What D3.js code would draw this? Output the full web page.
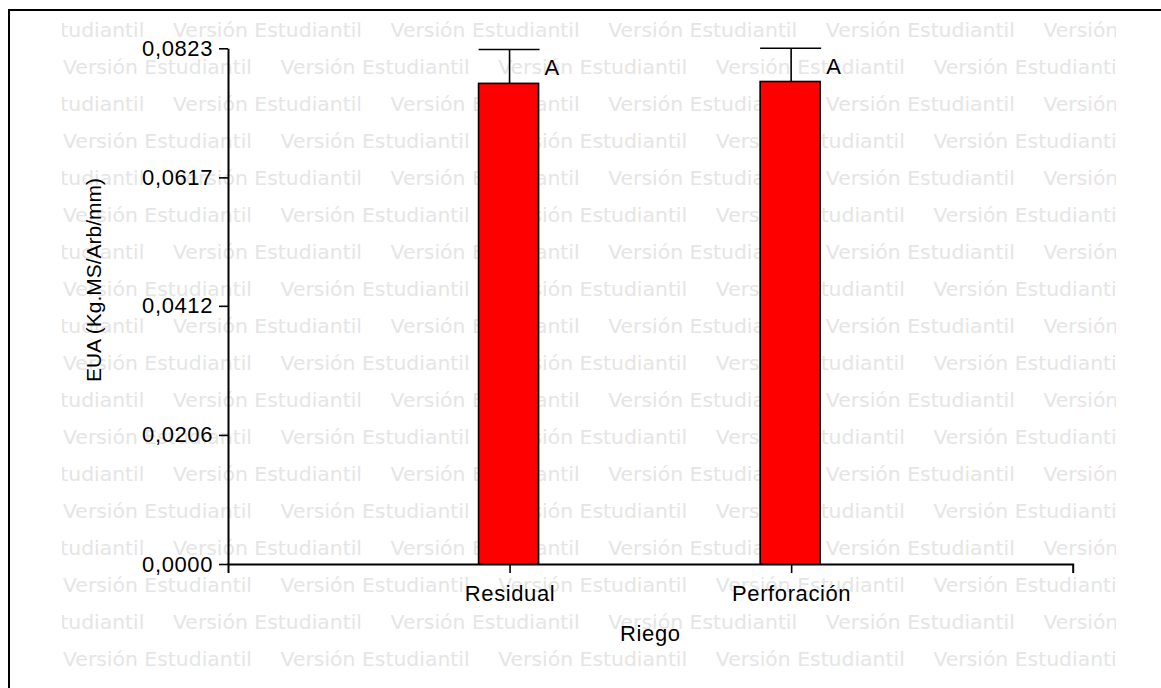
<!DOCTYPE html>
<html>
<head>
<meta charset="utf-8">
<script src="https://cdn.jsdelivr.net/npm/d3@7"></script>
<style>
  html, body { margin: 0; padding: 0; background: #fff; }
  svg { display: block; }
</style>
</head>
<body>
<svg id="chart" width="1161" height="688"></svg>
<script>
// Water-use efficiency by irrigation source
const categories = ["Residual", "Perforación"];
const means = [0.0767, 0.0770];
const errors = [0.0054, 0.0053];
const groupLetters = ["A", "A"];
const yTickValues = [0, 0.0206, 0.0412, 0.0617, 0.0823];
const yTickLabels = ["0,0000", "0,0206", "0,0412", "0,0617", "0,0823"];
const watermarkText = "Versión Estudiantil";

const svg = d3.select("#chart");
const W = 1161, H = 688;
const font = "'Liberation Sans', Arial, sans-serif";
const spacing = "0.6px";

svg.append("rect").attr("width", W).attr("height", H).attr("fill", "#fff");

// Student-licence watermark tiled behind the plot
const wmClip = svg.append("defs").append("clipPath").attr("id", "wm-clip");
wmClip.append("rect").attr("x", 62).attr("y", 12).attr("width", 1116 - 62).attr("height", H - 12);
const wm = svg.append("g").attr("clip-path", "url(#wm-clip)");
const period = 217.6;
for (let k = 0; k < 18; k++) {
  const y = 37 + 37 * k;
  const x0 = (k % 2 === 0) ? 173 - period : 63;
  for (let j = 0; j < 6; j++) {
    wm.append("text")
      .attr("x", x0 + period * j)
      .attr("y", y)
      .attr("textLength", 189)
      .attr("lengthAdjust", "spacingAndGlyphs")
      .attr("font-family", "'DejaVu Sans', Verdana, sans-serif")
      .attr("font-size", 19)
      .attr("fill", "#e5e5e5")
      .text(watermarkText);
  }
}

// Outer frame
svg.append("rect")
  .attr("x", 9).attr("y", 10)
  .attr("width", W + 20).attr("height", H + 20)
  .attr("fill", "none").attr("stroke", "#000").attr("stroke-width", 2);

const x0 = 228, x1 = 1072.7, yBase = 564, yTop = 48.3;

const y = d3.scaleLinear().domain([0, 0.0823]).range([yBase, yTop]);
const x = d3.scalePoint().domain(categories).range([x0, x1]).padding(1);

// Bars
const barW = 60;
svg.append("g").selectAll("rect")
  .data(categories)
  .join("rect")
  .attr("x", d => x(d) - barW / 2 - 1)
  .attr("y", (d, i) => y(means[i]))
  .attr("width", barW)
  .attr("height", (d, i) => y(0) - y(means[i]))
  .attr("fill", "#ff0000")
  .attr("stroke", "#000")
  .attr("stroke-width", 1.6);

// Error bars (upper only)
const eb = svg.append("g").attr("stroke", "#000").attr("stroke-width", 1.6);
categories.forEach((c, i) => {
  const cx = x(c);
  eb.append("line")
    .attr("x1", cx).attr("x2", cx)
    .attr("y1", y(means[i])).attr("y2", y(means[i] + errors[i]));
  eb.append("line")
    .attr("x1", cx - 31).attr("x2", cx + 30)
    .attr("y1", y(means[i] + errors[i])).attr("y2", y(means[i] + errors[i]));
});

// Group letters
svg.append("g").selectAll("text")
  .data(categories)
  .join("text")
  .attr("x", d => x(d) + 35)
  .attr("y", (d, i) => y(means[i]) - 8)
  .attr("font-family", font)
  .attr("font-size", 22)
  .attr("fill", "#000")
  .text((d, i) => groupLetters[i]);

// Y axis
const yAxis = d3.axisLeft(y)
  .tickValues(yTickValues)
  .tickFormat((d, i) => yTickLabels[i])
  .tickSize(9).tickSizeOuter(0).tickPadding(6);
const gy = svg.append("g").attr("transform", `translate(${x0},0)`).call(yAxis);
gy.select(".domain").attr("stroke-width", 2);
gy.selectAll(".tick line").attr("stroke-width", 1.6);
gy.selectAll("text").attr("font-family", font).attr("font-size", 22)
  .attr("letter-spacing", spacing).attr("fill", "#000");

// X axis
const xAxis = d3.axisBottom(x).tickSize(9).tickSizeOuter(9).tickPadding(12);
const gx = svg.append("g").attr("transform", `translate(0,${yBase})`).call(xAxis);
gx.select(".domain").attr("stroke-width", 2);
gx.selectAll(".tick line").attr("stroke-width", 1.6);
gx.selectAll("text").attr("font-family", font).attr("font-size", 22)
  .attr("letter-spacing", spacing).attr("fill", "#000");

// Axis titles
svg.append("text")
  .attr("x", (x0 + x1) / 2).attr("y", 641)
  .attr("text-anchor", "middle")
  .attr("font-family", font).attr("font-size", 22)
  .attr("letter-spacing", spacing).attr("fill", "#000")
  .text("Riego");

svg.append("text")
  .attr("transform", "translate(101,280) rotate(-90)")
  .attr("text-anchor", "middle")
  .attr("font-family", font).attr("font-size", 21).attr("fill", "#000")
  .text("EUA (Kg.MS/Arb/mm)");
</script>
</body>
</html>
